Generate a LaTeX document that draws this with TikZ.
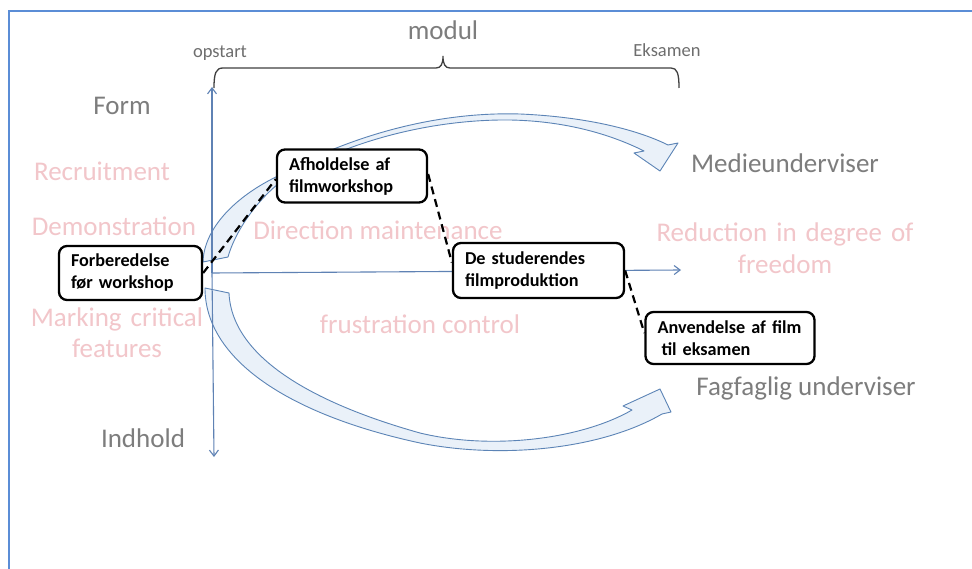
\documentclass[tikz,border=0pt]{standalone}
\usepackage{fontspec}
\setmainfont{Carlito}
\usetikzlibrary{arrows.meta}

\definecolor{frameblue}{RGB}{91,141,214}
\definecolor{axisblue}{RGB}{95,130,180}
\definecolor{bandedge}{RGB}{92,132,182}
\definecolor{bandfill}{RGB}{234,241,249}
\definecolor{labelgray}{RGB}{125,125,125}
\definecolor{scalegray}{RGB}{110,110,110}
\definecolor{softpink}{RGB}{242,198,202}

\tikzset{
  biglabel/.style={font=\fontsize{27}{32}\selectfont, inner sep=0pt},
  graylbl/.style={biglabel, text=labelgray},
  pinklbl/.style={biglabel, text=softpink, align=center},
  smalllbl/.style={font=\fontsize{18.5}{22}\selectfont, text=scalegray, inner sep=0pt},
  stagebox/.style={draw=black, line width=2.3pt, rounded corners=8pt, fill=white,
    font=\bfseries\fontsize{18.2}{22}\selectfont, align=left,
    inner xsep=12pt, inner ysep=3pt},
  axisline/.style={draw=axisblue, line width=1.1pt,
    -{Straight Barb[length=6pt,width=9pt]}},
  dashlink/.style={draw=black, line width=2.2pt, dash pattern=on 8pt off 5pt},
  band/.style={draw=bandedge, fill=bandfill, line width=0.9pt, line join=round},
  brace/.style={draw=black!75, line width=1.3pt}
}

\begin{document}
\begin{tikzpicture}[x=1pt, y=-1pt]
\useasboundingbox (0,0) rectangle (972,569);
\fill[white] (0,0) rectangle (972,569);

% open frame: top and left edges only
\draw[frameblue, line width=2pt] (972,11) -- (9,11) -- (9,569);

% time scale above the chart
\node[graylbl] (modul) at (443,30) {modul};
\node[smalllbl] (opstart) at (220,53) {opstart};
\node[smalllbl] (eksamen) at (667,50) {Eksamen};
\draw[brace] (214,88) .. controls (214,73) and (216,68) .. (223,68) -- (436,68)
  .. controls (441,68) and (443,64) .. (443,56)
  .. controls (443,64) and (445,68) .. (450,68) -- (671,68)
  .. controls (677,68) and (679,73) .. (679,88);

% background labels
\node[pinklbl] (recruit) at (102,171) {Recruitment};
\node[pinklbl] (demo) at (114,226) {Demonstration};
\node[pinklbl, text width=200pt] (marking) at (117,333)
  {Marking critical\\[-1pt]features};
\node[pinklbl] (direction) at (378,230) {Direction maintenance};
\node[pinklbl] (frustration) at (420,324) {frustration control};
\node[pinklbl, text width=280pt] (reduction) at (785,248)
  {Reduction in degree of\\[0pt]freedom};

\node[graylbl] (form) at (122,106) {Form};
\node[graylbl] (indhold) at (143,438) {Indhold};
\node[graylbl] (medie) at (785,163) {Medieunderviser};
\node[graylbl] (fagfaglig) at (806,388) {Fagfaglig underviser};

% upper curved block arrow
\draw[band] (203,262) .. controls (204,228) and (236,196) .. (278,176)
  .. controls (330,146) and (420,111) .. (520,114)
  .. controls (590,117) and (640,131) .. (668,145)
  -- (678,143) -- (660,171) -- (634,153) -- (644,151)
  .. controls (610,134) and (565,121) .. (510,120)
  .. controls (420,119) and (330,148) .. (278,184)
  .. controls (255,203) and (235,232) .. (228,257) -- cycle;

% lower curved block arrow
\draw[band] (205,288) .. controls (205,360) and (290,415) .. (420,443)
  .. controls (500,459) and (600,450) .. (662,414)
  -- (671,412) -- (660,389) -- (623,406) -- (632,410)
  .. controls (580,440) and (490,450) .. (420,433)
  .. controls (320,405) and (232,360) .. (229,293) -- cycle;

% axes
\coordinate (origin) at (212,273);
\coordinate (formtip) at (212,87);
\coordinate (indholdtip) at (214,457);
\coordinate (timetip) at (681,270);
\draw[axisline] (origin) -- (formtip);
\draw[axisline] (origin) -- (indholdtip);
\draw[axisline] (origin) -- (timetip);

% stages
\node[stagebox, text width=119pt, minimum height=54pt] (fb) at (130.5,273)
  {Forberedelse\\før workshop};
\node[stagebox, text width=126pt, minimum height=53pt] (af) at (352,176)
  {Afholdelse af\\filmworkshop};
\node[stagebox, text width=147pt, minimum height=55pt] (ds) at (538.5,270.5)
  {De studerendes\\filmproduktion};
\node[stagebox, text width=145pt, minimum height=52pt] (an) at (730,338)
  {Anvendelse af film\\\hspace*{4pt}til eksamen};

% links between the stages
\draw[dashlink] (fb.east) -- ([yshift=-3pt]af.west);
\draw[dashlink] ([yshift=2pt]af.east) -- ([yshift=8pt]ds.west);
\draw[dashlink] (ds.east) -- ([yshift=5pt]an.west);

\end{tikzpicture}
\end{document}
